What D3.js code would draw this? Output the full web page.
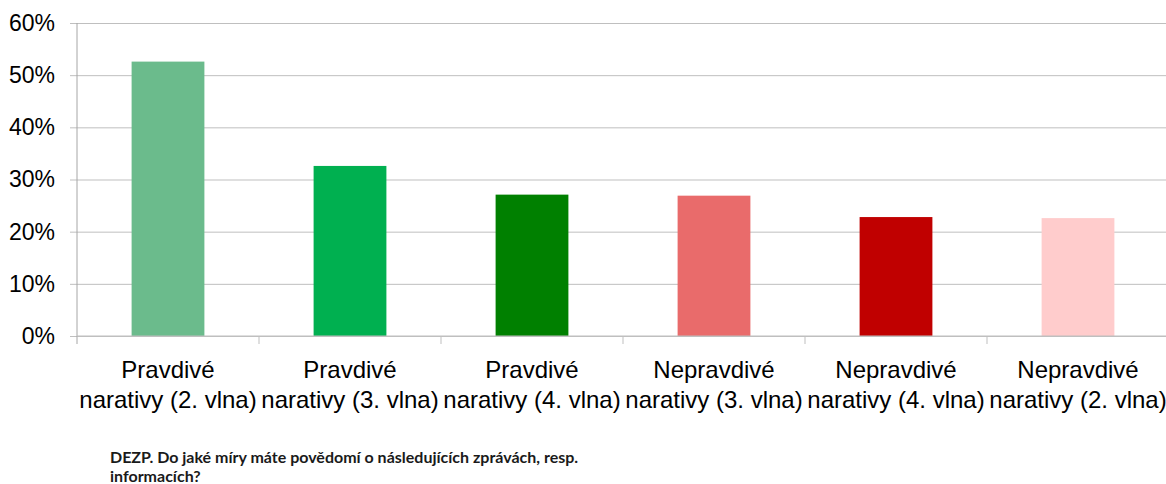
<!DOCTYPE html>
<html>
<head>
<meta charset="utf-8">
<script src="https://cdn.jsdelivr.net/npm/d3@7"></script>
<style>
  body { margin: 0; background: #fff; }
  svg { display: block; }
</style>
</head>
<body>
<div class="visHolder"></div>
<script>
// data
var categories = [
    ["Pravdivé", "narativy (2. vlna)"],
    ["Pravdivé", "narativy (3. vlna)"],
    ["Pravdivé", "narativy (4. vlna)"],
    ["Nepravdivé", "narativy (3. vlna)"],
    ["Nepravdivé", "narativy (4. vlna)"],
    ["Nepravdivé", "narativy (2. vlna)"]
]
var values = [0.526, 0.326, 0.271, 0.269, 0.228, 0.226]
var barColors = ["#6bbb8c", "#00b050", "#008000", "#e96b6b", "#c00000", "#ffcccc"]
var yTicks = [0, 0.1, 0.2, 0.3, 0.4, 0.5, 0.6]
var footnote = ["DEZP. Do jaké míry máte povědomí o následujících zprávách, resp.", "informacích?"]

var width = 1166
var height = 484
var plotLeft = 77, plotRight = 1169, plotTop = 23, plotBottom = 336

var svg = d3.select('.visHolder')
    .append('svg')
    .attr('width', width)
    .attr('height', height)

var xScale = d3.scaleBand()
    .domain(d3.range(categories.length))
    .range([plotLeft, plotRight])
    .paddingInner(0.6)
    .paddingOuter(0.3)

var xEdges = d3.scaleLinear()
    .domain([0, categories.length])
    .range([plotLeft, plotRight])

var yScale = d3.scaleLinear()
    .domain([0, 0.6])
    .range([plotBottom, plotTop])

// gridlines + y labels
svg.append("g")
    .attr("transform", `translate(${plotLeft},0)`)
    .call(d3.axisLeft(yScale)
        .tickValues(yTicks)
        .tickFormat(d3.format(".0%"))
        .tickSize(-(plotRight - plotLeft))
        .tickPadding(22))
    .call(g => g.select(".domain").remove())
    .call(g => g.selectAll("line").attr("stroke", "#bfbfbf").attr("x1", -7))
    .call(g => g.selectAll("text")
        .attr("x", -22)
        .style("font-family", "'Liberation Sans', Arial, sans-serif")
        .style("font-size", "23px")
        .attr("fill", "#000"))

// bars
svg.selectAll('rect.bar')
    .data(values)
    .enter()
    .append('rect')
    .attr('class', 'bar')
    .attr('x', (d, i) => xScale(i))
    .attr('y', d => yScale(d))
    .attr('width', xScale.bandwidth())
    .attr('height', d => plotBottom - yScale(d))
    .style('fill', (d, i) => barColors[i])

// y axis line and category ticks
svg.append("line")
    .attr("x1", plotLeft).attr("x2", plotLeft)
    .attr("y1", plotTop).attr("y2", plotBottom + 8)
    .attr("stroke", "#a6a6a6")
svg.append("line")
    .attr("x1", plotLeft).attr("x2", plotRight)
    .attr("y1", plotBottom).attr("y2", plotBottom)
    .attr("stroke", "#bfbfbf")
svg.selectAll("line.ctick")
    .data(d3.range(1, categories.length))
    .enter()
    .append("line")
    .attr("class", "ctick")
    .attr("x1", d => xEdges(d)).attr("x2", d => xEdges(d))
    .attr("y1", plotBottom).attr("y2", plotBottom + 8)
    .attr("stroke", "#bfbfbf")

// category labels
var labels = svg.selectAll("text.cat")
    .data(categories)
    .enter()
    .append("text")
    .attr("class", "cat")
    .attr("text-anchor", "middle")
    .style("font-family", "'Liberation Sans', Arial, sans-serif")
    .style("font-size", "24px")
    .attr("fill", "#000")
labels.selectAll("tspan")
    .data((d, i) => d.map(t => [t, i]))
    .enter()
    .append("tspan")
    .attr("x", d => xScale(d[1]) + xScale.bandwidth() / 2)
    .attr("y", (d, j) => 378 + j * 30)
    .text(d => d[0])

// footnote
svg.append("text")
    .style("font-family", "Lato, 'Open Sans', sans-serif")
    .style("font-weight", "bold")
    .style("font-size", "16px")
    .attr("fill", "#1a1a1a")
    .selectAll("tspan")
    .data(footnote)
    .enter()
    .append("tspan")
    .attr("x", 110)
    .attr("y", (d, i) => 463 + i * 19)
    .text(d => d)
</script>
</body>
</html>
